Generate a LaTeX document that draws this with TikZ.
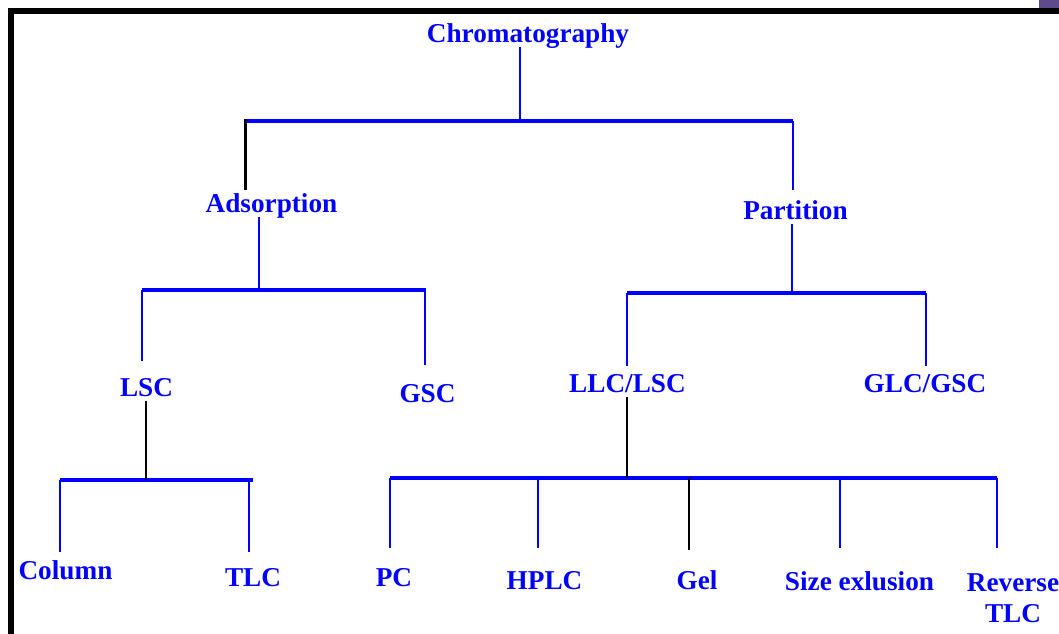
\documentclass[tikz,border=0pt]{standalone}
\usepackage{fontspec}
\setmainfont{Liberation Serif}
\definecolor{cornerpurple}{RGB}{95,75,139}

\begin{document}
\begin{tikzpicture}[%
      x=0.02cm, y=-0.02cm,
      lbl/.style={font=\bfseries\fontsize{15.5}{18.2}\selectfont, text=blue,
        inner sep=0pt, text depth=0.18em, anchor=base},
      bar/.style={color=blue, line width=2.2pt},
      leg/.style={color=blue, line width=1.4pt},
      bleg/.style={color=black, line width=1.4pt},
      ]
      \useasboundingbox (0,0) rectangle (1059,634);

      % frame
      \draw [color=black, line width=3.2pt] (11.2,640) -- (11.2,11.2) -- (1065,11.2);
      \fill [color=cornerpurple] (1039,0) rectangle (1059,8.3);

      % labels
      \node[lbl] (chrom) at (528,43) {Chromatography};
      \node[lbl] (ads) at (271.5,213) {Adsorption};
      \node[lbl] (part) at (795.5,220) {Partition};
      \node[lbl] (lsc) at (146.5,397) {LSC};
      \node[lbl] (gsc) at (427.5,403) {GSC};
      \node[lbl] (llc) at (627.5,393) {LLC/LSC};
      \node[lbl] (glc) at (925,393) {GLC/GSC};
      \node[lbl] (col) at (65.5,580) {Column};
      \node[lbl] (tlc) at (253,587) {TLC};
      \node[lbl] (pc) at (394,587) {PC};
      \node[lbl] (hplc) at (544.5,590) {HPLC};
      \node[lbl] (gel) at (697,590) {Gel};
      \node[lbl] (size) at (859.5,591) {Size exlusion};
      \node[lbl, align=center] (rev) at (1013,623) {Reverse\\TLC};

      % bars
      \coordinate (b1l) at (245.5,121);  \coordinate (b1r) at (793,121);  \coordinate (j1) at (520,121);
      \coordinate (b2l) at (142,290);    \coordinate (b2r) at (425,290);  \coordinate (j2) at (259,292);
      \coordinate (b3l) at (627,293);    \coordinate (b3r) at (926,293);  \coordinate (j3) at (792,293);
      \coordinate (b4l) at (60,480);     \coordinate (b4r) at (249,480);  \coordinate (j4) at (146,480);
      \coordinate (b5l) at (390,478);    \coordinate (b5r) at (997,478);  \coordinate (j5) at (627,478);
      \coordinate (b5b) at (538,478);    \coordinate (b5c) at (689,478);  \coordinate (b5d) at (840,478);

      % ends of the drops
      \coordinate (ads-in) at (245.5,190);
      \coordinate (part-in) at (793,190);
      \coordinate (lsc-in) at (142,361);
      \coordinate (gsc-in) at (425,365);
      \coordinate (llc-in) at (627,366);
      \coordinate (glc-in) at (926,366);
      \coordinate (col-in) at (60,552);
      \coordinate (tlc-in) at (249,552);
      \coordinate (pc-in) at (390,548);
      \coordinate (hplc-in) at (538,548);
      \coordinate (gel-in) at (689,550);
      \coordinate (size-in) at (840,548);
      \coordinate (rev-in) at (997,548);

      \draw[bar] (b1l) -- (b1r);
      \draw[bar] (b2l) -- ([xshift=0.02cm]b2r);
      \draw[bar] (b3l) -- (b3r);
      \draw[bar] (b4l) -- ([xshift=0.08cm]b4r);
      \draw[bar] (b5l) -- (b5r);

      % stems
      \draw[leg] (chrom.south -| j1) -- (j1);
      \draw[leg] (ads.south -| j2) -- (j2);
      \draw[leg] (part.south -| j3) -- (j3);
      \draw[bleg] (lsc.south -| j4) -- (j4);
      \draw[bleg] (llc.south -| j5) -- (j5);

      % drops
      \draw[bleg] ([yshift=0.04cm]b1l) -- (ads-in);
      \draw[leg] (b1r) -- (part-in);
      \draw[leg] (b2l) -- (lsc-in);
      \draw[leg] (b2r) -- (gsc-in);
      \draw[leg] (b3l) -- (llc-in);
      \draw[leg] (b3r) -- (glc-in);
      \draw[leg] (b4l) -- (col-in);
      \draw[leg] (b4r) -- (tlc-in);
      \draw[leg] (b5l) -- (pc-in);
      \draw[leg] (b5b) -- (hplc-in);
      \draw[bleg] (b5c) -- (gel-in);
      \draw[leg] (b5d) -- (size-in);
      \draw[leg] (b5r) -- (rev-in);
\end{tikzpicture}
\end{document}
